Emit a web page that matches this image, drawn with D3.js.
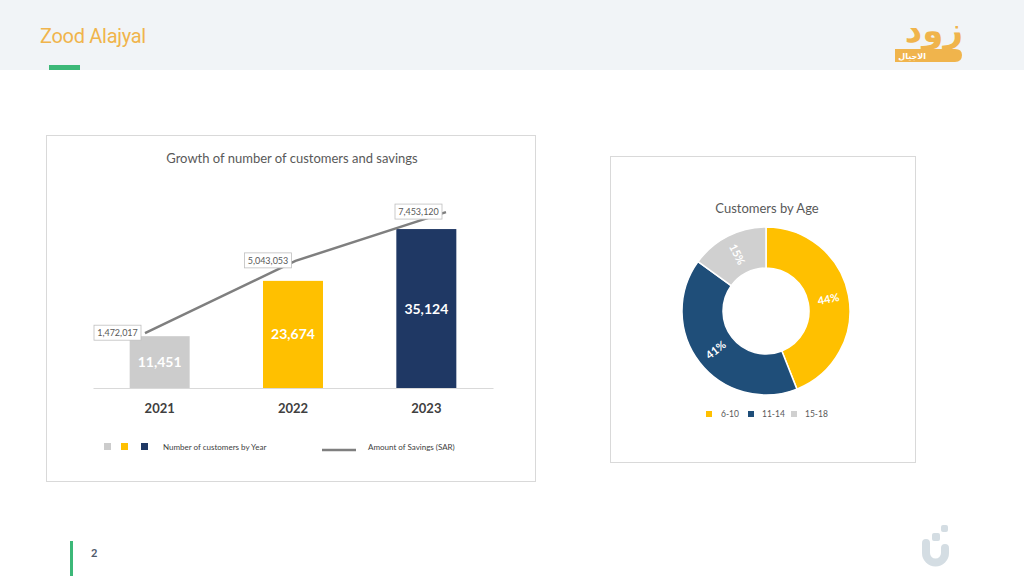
<!DOCTYPE html>
<html><head><meta charset="utf-8">
<script src="https://cdn.jsdelivr.net/npm/d3@7"></script>
<style>html,body{margin:0;padding:0;background:#fff;overflow:hidden}svg{display:block}</style>
</head><body>
<svg id="c" width="1024" height="576"></svg>
<script>
// ---- data ----
const years = ["2021", "2022", "2023"];
const customers = [11451, 23674, 35124];
const savings = [1472017, 5043053, 7453120];
const barColors = ["#cccccc", "#ffc000", "#1f3864"];
const ageGroups = ["6-10", "11-14", "15-18"];
const agePct = [44, 41, 15];
const ageColors = ["#ffc000", "#1f4e79", "#d0d0d0"];

const svg = d3.select("#c");
const F = "Lato, 'Open Sans', sans-serif";

// ---- header ----
svg.append("rect").attr("x",0).attr("y",0).attr("width",1024).attr("height",70).attr("fill","#f1f4f7");
svg.append("text").attr("x",40).attr("y",43).text("Zood Alajyal")
  .attr("font-family","Roboto, sans-serif").attr("font-size",20).attr("fill","#f0b44c").attr("letter-spacing",-0.3);
svg.append("rect").attr("x",49).attr("y",65).attr("width",31).attr("height",5).attr("fill","#3cb878");
// logo
svg.append("text").attr("x",963).attr("y",42).attr("text-anchor","end").text("زود")
  .attr("font-family","'DejaVu Sans', sans-serif").attr("font-weight","bold").attr("font-size",34).attr("fill","#f0b44c")
  .attr("letter-spacing",-3);
svg.append("path").attr("d","M895,49 L955,49 Q962,49 962,55 Q962,62 955,62 L895,62 Z").attr("fill","#f0b44c");
svg.append("text").attr("x",926).attr("y",59).attr("text-anchor","end").text("الاجيال")
  .attr("font-family","'DejaVu Sans', sans-serif").attr("font-size",8).attr("font-weight","bold").attr("fill","#fff");

// ---- footer ----
svg.append("rect").attr("x",70).attr("y",541).attr("width",3).attr("height",35).attr("fill","#3cb878");
svg.append("text").attr("x",91).attr("y",557).text("2").attr("font-family",F).attr("font-size",11).attr("font-weight","bold").attr("fill","#4f5a6b");
svg.append("path").attr("d","M926,543 L926,553 A9.5,9.5 0 0 0 945,553 L945,548")
  .attr("fill","none").attr("stroke","#d4dde3").attr("stroke-width",8).attr("stroke-linecap","round");
svg.append("rect").attr("x",932).attr("y",533).attr("width",8).attr("height",8).attr("rx",2).attr("fill","#d4dde3");
svg.append("rect").attr("x",941).attr("y",525).attr("width",7).attr("height",7).attr("rx",2).attr("fill","#d4dde3");

// ---- bar card ----
svg.append("rect").attr("x",46.5).attr("y",135.5).attr("width",489).attr("height",346).attr("fill","#fff").attr("stroke","#d9d9d9");
svg.append("text").attr("x",292).attr("y",163).attr("text-anchor","middle").text("Growth of number of customers and savings")
  .attr("font-family",F).attr("font-size",13).attr("fill","#595959");

const x = d3.scaleBand().domain(years).range([93, 493]).paddingInner(0.55).paddingOuter(0.275);
const y = d3.scaleLinear().domain([0, 40000]).range([388, 207]);
const xl = d3.scalePoint().domain(years).range([145, 446]);
const y2 = d3.scaleLinear().domain([0, 8000000]).range([363, 201]);

const xAxis = svg.append("g").attr("transform","translate(0,388)").call(d3.axisBottom(x).tickSize(0).tickPadding(16));
xAxis.select(".domain").attr("stroke","#d9d9d9");
xAxis.selectAll("text").attr("font-family",F).attr("font-size",13).attr("font-weight","bold").attr("fill","#404040");

svg.selectAll(".bar").data(years).join("rect")
  .attr("x", d => x(d)).attr("width", x.bandwidth())
  .attr("y", (d,i) => y(customers[i])).attr("height", (d,i) => y(0) - y(customers[i]))
  .attr("fill", (d,i) => barColors[i]);
svg.selectAll(".blab").data(years).join("text")
  .attr("x", d => x(d) + x.bandwidth()/2)
  .attr("y", (d,i) => (y(customers[i]) + y(0))/2 + 5)
  .attr("text-anchor","middle").text((d,i) => d3.format(",")(customers[i]))
  .attr("font-family",F).attr("font-size",14).attr("font-weight","bold").attr("fill","#fff");

const line = d3.line().x(d => xl(d)).y((d,i) => y2(savings[i]));
svg.append("path").datum(years).attr("d", line).attr("fill","none").attr("stroke","#7f7f7f").attr("stroke-width",2.5);

years.forEach((d,i) => {
  const px = xl(d), py = y2(savings[i]);
  const g = svg.append("g");
  g.append("rect").attr("x", px-51).attr("y", py-8).attr("width",47).attr("height",15)
    .attr("fill","#fff").attr("stroke","#bfbfbf").attr("stroke-width",0.8);
  g.append("text").attr("x", px-27.5).attr("y", py+3).attr("text-anchor","middle")
    .text(d3.format(",")(savings[i])).attr("font-family",F).attr("font-size",9).attr("fill","#595959");
});

// legend
[104,121,141].forEach((lx,i)=>{
  svg.append("rect").attr("x",lx).attr("y",443).attr("width",7).attr("height",7).attr("fill",barColors[i]);
});
svg.append("text").attr("x",163).attr("y",450).text("Number of customers by Year").attr("font-family",F).attr("font-size",8).attr("fill","#404040");
svg.append("line").attr("x1",322).attr("x2",356).attr("y1",450).attr("y2",450).attr("stroke","#7f7f7f").attr("stroke-width",2.5);
svg.append("text").attr("x",368).attr("y",450).text("Amount of Savings (SAR)").attr("font-family",F).attr("font-size",8).attr("fill","#404040");

// ---- donut card ----
svg.append("rect").attr("x",610.5).attr("y",156.5).attr("width",305).attr("height",306).attr("fill","#fff").attr("stroke","#d9d9d9");
svg.append("text").attr("x",767).attr("y",213).attr("text-anchor","middle").text("Customers by Age")
  .attr("font-family",F).attr("font-size",13).attr("fill","#595959");

const cx = 766, cy = 311;
const pie = d3.pie().sort(null).value(d => d);
const arcs = pie(agePct);
const arc = d3.arc().innerRadius(43).outerRadius(84);
const dg = svg.append("g").attr("transform",`translate(${cx},${cy})`);
dg.selectAll("path").data(arcs).join("path").attr("d", arc)
  .attr("fill", (d,i) => ageColors[i]).attr("stroke","#fff").attr("stroke-width",1.5);
dg.selectAll("text").data(arcs).join("text")
  .attr("transform", d => {
    const c = arc.centroid(d);
    const mid = (d.startAngle + d.endAngle)/2 * 180/Math.PI;
    const rot = mid < 180 ? mid - 90 : mid - 270;
    return `translate(${c[0]},${c[1]}) rotate(${rot})`;
  })
  .attr("text-anchor","middle").attr("dy","0.35em").text((d,i) => agePct[i] + "%")
  .attr("font-family",F).attr("font-size",11).attr("font-weight","bold").attr("fill","#fff");

const lg = [[706,721],[748,762],[791,805]];
ageGroups.forEach((a,i)=>{
  svg.append("rect").attr("x",lg[i][0]).attr("y",411).attr("width",6).attr("height",6).attr("fill",ageColors[i]);
  svg.append("text").attr("x",lg[i][1]).attr("y",417).text(a).attr("font-family",F).attr("font-size",8.5).attr("fill","#595959");
});
</script>
</body></html>
